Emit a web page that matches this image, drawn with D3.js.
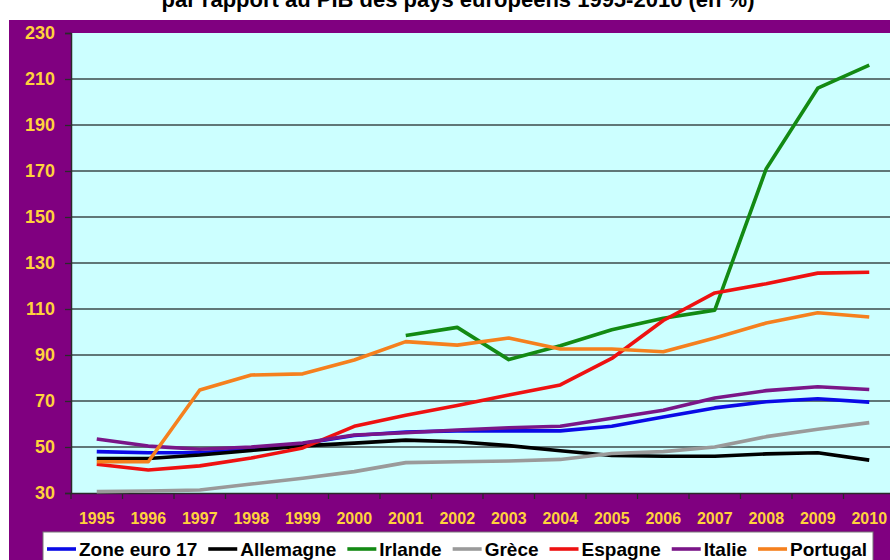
<!DOCTYPE html>
<html>
<head>
<meta charset="utf-8">
<script src="https://cdn.jsdelivr.net/npm/d3@7"></script>
<style>
  body { margin: 0; background: #fff; }
  svg { display: block; font-family: Arial, "Liberation Sans", sans-serif; }
</style>
</head>
<body>
<svg id="chart" width="890" height="560"></svg>
<script>
var years = ["1995","1996","1997","1998","1999","2000","2001","2002","2003","2004","2005","2006","2007","2008","2009","2010"];
var yTicks = [30, 50, 70, 90, 110, 130, 150, 170, 190, 210, 230];

var seriesNames = ["Zone euro 17", "Allemagne", "Irlande", "Grèce", "Espagne", "Italie", "Portugal"];

var zoneEuro  = [48, 47.5, 47.5, 49, 51.5, 55, 56.5, 57, 57, 57, 59, 63, 67, 69.7, 71, 69.5];
var allemagne = [45, 45, 46.5, 48.5, 50.5, 51.7, 53, 52.3, 50.6, 48.4, 46.3, 46, 46, 47, 47.5, 44.3];
var irlande   = [null, null, null, null, null, null, 98.5, 102, 88, 94, 101, 106, 109.5, 171, 206, 216];
var grece     = [30.6, 30.9, 31.3, 33.9, 36.4, 39.3, 43.2, 43.6, 43.9, 44.6, 47.2, 48, 50, 54.5, 57.7, 60.6];
var espagne   = [42.5, 40, 41.8, 45.2, 49.6, 59, 63.8, 68, 72.6, 77, 88.5, 105, 117, 121, 125.6, 126];
var italie    = [53.5, 50.4, 49, 50, 51.7, 55.2, 56.2, 57.4, 58.4, 59, 62.5, 66, 71.3, 74.5, 76.2, 75];
var portugal  = [43.6, 43.6, 74.8, 81.3, 81.8, 87.8, 95.8, 94.3, 97.4, 92.6, 92.6, 91.4, 97.4, 103.9, 108.4, 106.5];

var seriesValues = [zoneEuro, allemagne, irlande, grece, espagne, italie, portugal];
var seriesColors = ["#0a0ae6", "#000000", "#138a13", "#9a9a9a", "#ee1111", "#7a1688", "#f5801e"];

var svg = d3.select("#chart");
var W = 890, H = 560;
var pLeft = 71, pRight = 895, pTop = 33, pBottom = 493;

// outer frame
svg.append("rect").attr("x", 9).attr("y", 20).attr("width", W - 9).attr("height", H - 20)
    .style("fill", "#800080");

// title (cut off at the top, as in the source)
svg.append("text")
    .attr("x", 458).attr("y", 7)
    .attr("text-anchor", "middle")
    .style("font-size", "22px").style("font-weight", "bold").style("fill", "#000")
    .text("par rapport au PIB des pays européens 1995-2010 (en %)");

var x = d3.scaleBand().domain(years).range([pLeft, pRight]);
var y = d3.scaleLinear().domain([30, 230]).range([pBottom, pTop]);

// plot area
svg.append("rect").attr("x", pLeft).attr("y", pTop)
    .attr("width", pRight - pLeft).attr("height", pBottom - pTop)
    .style("fill", "#ccffff");

// grid lines
svg.selectAll("line.grid")
    .data(yTicks.slice(1, -1))
  .enter().append("line")
    .attr("class", "grid")
    .attr("x1", pLeft).attr("x2", pRight)
    .attr("y1", function(d) { return y(d); })
    .attr("y2", function(d) { return y(d); })
    .style("stroke", "#3c4a4a").style("stroke-width", 1.3);

// y axis
var yAxis = svg.append("g")
    .attr("transform", "translate(" + pLeft + ",0)")
    .call(d3.axisLeft(y).tickValues(yTicks).tickSize(6).tickPadding(10));
yAxis.select(".domain").style("stroke", "#2a2a2a").style("stroke-width", 1.5);
yAxis.selectAll(".tick line").style("stroke", "#2a2a2a").style("stroke-width", 1.3);
yAxis.selectAll("text")
    .style("font-size", "18px").style("font-weight", "bold")
    .style("fill", "#ffd23c").style("font-family", "Arial, 'Liberation Sans', sans-serif");

// x axis
var xAxis = svg.append("g")
    .attr("transform", "translate(0," + pBottom + ")")
    .call(d3.axisBottom(x).tickSize(0).tickPadding(20));
xAxis.select(".domain").style("stroke", "#2a2a2a").style("stroke-width", 1.5);
xAxis.selectAll("text")
    .style("font-size", "16px").style("font-weight", "bold")
    .style("fill", "#ffd23c").style("font-family", "Arial, 'Liberation Sans', sans-serif");

// category separators on x axis
svg.selectAll("line.xtick")
    .data(years)
  .enter().append("line")
    .attr("class", "xtick")
    .attr("x1", function(d) { return x(d); })
    .attr("x2", function(d) { return x(d); })
    .attr("y1", pBottom).attr("y2", pBottom + 6)
    .style("stroke", "#2a2a2a").style("stroke-width", 1.3);

// series
var line = d3.line()
    .defined(function(d) { return d != null; })
    .x(function(d, i) { return x(years[i]) + x.bandwidth() / 2; })
    .y(function(d) { return y(d); });

svg.selectAll("path.series")
    .data(seriesValues)
  .enter().append("path")
    .attr("class", "series")
    .attr("d", line)
    .style("fill", "none")
    .style("stroke", function(d, i) { return seriesColors[i]; })
    .style("stroke-width", 3.6)
    .style("stroke-linejoin", "round");

// legend
var lg = svg.append("g");
lg.append("rect")
    .attr("x", 43).attr("y", 532).attr("width", 830).attr("height", 40)
    .style("fill", "#fff").style("stroke", "#777").style("stroke-width", 1);

var lx = 47;
seriesNames.forEach(function(name, i) {
  lg.append("line")
      .attr("x1", lx).attr("x2", lx + 29)
      .attr("y1", 549).attr("y2", 549)
      .style("stroke", seriesColors[i]).style("stroke-width", 3.6);
  var t = lg.append("text")
      .attr("x", lx + 32).attr("y", 556)
      .style("font-size", "19px").style("font-weight", "bold").style("fill", "#000")
      .text(name);
  lx = lx + 32 + t.node().getComputedTextLength() + 11;
});
</script>
</body>
</html>
